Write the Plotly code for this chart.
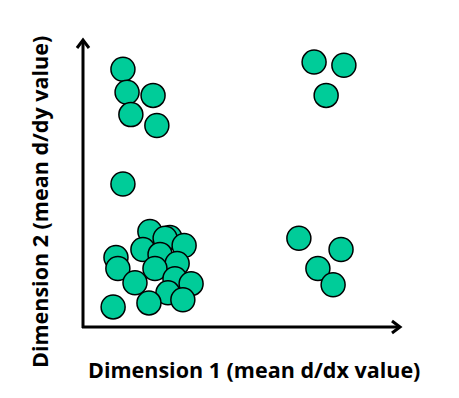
import plotly.graph_objects as go

# Data (arbitrary units on 0-10 scales)
dim1 = [1.26, 1.39, 2.21, 1.51, 2.33,
        1.26,
        2.11, 2.59, 2.74, 3.19, 1.89, 1.04, 2.43, 2.97, 1.10, 2.27,
        1.64, 2.90, 3.41, 2.68, 3.15, 2.08, 0.95,
        7.29, 8.23, 7.67,
        6.81, 8.14, 7.41, 7.89]
dim2 = [8.98, 8.18, 8.07, 7.40, 7.02,
        4.98,
        3.33, 3.09, 3.12, 2.84, 2.70, 2.42, 2.53, 2.21, 2.04, 2.04,
        1.54, 1.68, 1.51, 1.19, 0.95, 0.84, 0.70,
        9.23, 9.12, 8.07,
        3.09, 2.70, 2.04, 1.47]

x_title = "Dimension 1 (mean d/dx value)"
y_title = "Dimension 2 (mean d/dy value)"

OFF = 8  # page body offset
L, R, T, B = 83 - OFF, 67, 40 - OFF, 79
W, H = 459, 398
pw, ph = W - L - R, H - T - B

order = sorted(range(len(dim1)), key=lambda i: -dim2[i])
xs = [dim1[i] for i in order]
ys = [dim2[i] for i in order]

fig = go.Figure()
fig.add_trace(go.Scatter(
    x=xs, y=ys, mode="markers",
    marker=dict(size=24, color="#00CC99", line=dict(color="black", width=1.5)),
    hoverinfo="skip", showlegend=False,
))

axis_line = dict(color="black", width=3)
shapes = [
    dict(type="line", xref="paper", yref="paper", x0=0, y0=-1 / ph, x1=0, y1=1, line=axis_line),
    dict(type="line", xref="paper", yref="paper", x0=-1 / pw, y0=0, x1=1, y1=0, line=axis_line),
    dict(type="path", xref="paper", yref="paper",
         path=f"M {-6/pw} {1-8/ph} L 0 1 L {6/pw} {1-8/ph}", line=axis_line),
    dict(type="path", xref="paper", yref="paper",
         path=f"M {1-8/pw} {6/ph} L 1 0 L {1-8/pw} {-6/ph}", line=axis_line),
]

font = dict(family="Open Sans, Lato, sans-serif", size=21.5, color="black")


def px_to_paper_x(px):
    return (px - OFF - L) / pw


def px_to_paper_y(py):
    return (T + ph - (py - OFF)) / ph


annotations = [
    dict(text=f"<b>{x_title}</b>", xref="paper", yref="paper",
         x=px_to_paper_x(254), y=px_to_paper_y(369), showarrow=False,
         xanchor="center", yanchor="middle", font=font),
    dict(text=f"<b>{y_title}</b>", xref="paper", yref="paper",
         x=px_to_paper_x(39), y=px_to_paper_y(202), showarrow=False, textangle=-90,
         xanchor="center", yanchor="middle", font=font),
]

fig.update_layout(
    width=W, height=H,
    margin=dict(l=L, r=R, t=T, b=B),
    paper_bgcolor="white", plot_bgcolor="white",
    xaxis=dict(range=[0, 10], showgrid=False, zeroline=False, showticklabels=False,
               ticks="", showline=False),
    yaxis=dict(range=[0, 10], showgrid=False, zeroline=False, showticklabels=False,
               ticks="", showline=False),
    shapes=shapes, annotations=annotations,
)

fig.write_html("out.html")
